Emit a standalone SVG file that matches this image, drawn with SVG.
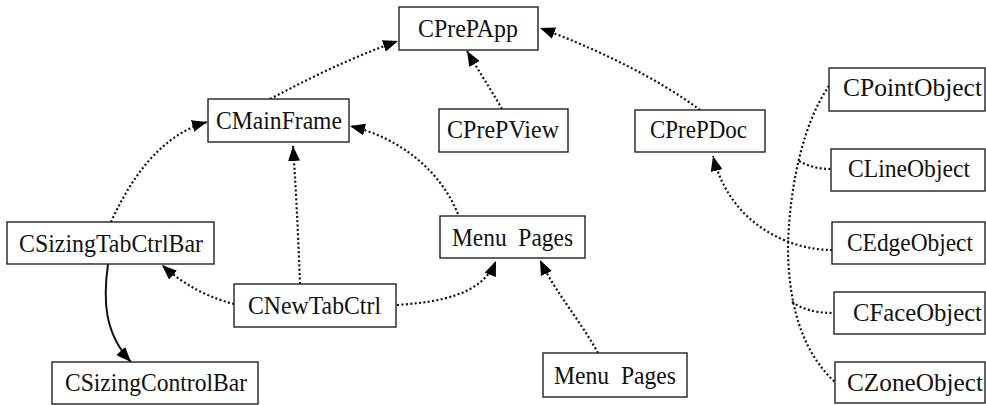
<svg xmlns="http://www.w3.org/2000/svg" width="986" height="405" viewBox="0 0 986 405">
<style>
.box{fill:#fff;stroke:#222;stroke-width:1.4}
.t{font-family:"Liberation Serif","Times New Roman",serif;font-size:25px;fill:#111}
.dot{fill:none;stroke:#111;stroke-width:2.2;stroke-dasharray:2 2.4}
.sol{fill:none;stroke:#111;stroke-width:2}
</style>
<defs>
<marker id="ah" viewBox="0 0 15 12" refX="15" refY="6" markerWidth="15" markerHeight="12" markerUnits="userSpaceOnUse" orient="auto">
<path d="M0,0 L15,6 L0,12 z" fill="#000"/>
</marker>
</defs>
<rect width="986" height="405" fill="#fff"/>
<g id="connectors">
<path class="dot" d="M270,99 C310,78 350,58 398,41" marker-end="url(#ah)"/>
<path class="dot" d="M502,109 C490,88 478,70 467,51" marker-end="url(#ah)"/>
<path class="dot" d="M700,110 C660,80 600,50 540,28" marker-end="url(#ah)"/>
<path class="dot" d="M111,222 C130,180 160,135 207,122" marker-end="url(#ah)"/>
<path class="dot" d="M300,284 C298,230 296,190 293,146" marker-end="url(#ah)"/>
<path class="dot" d="M458,214 C440,170 400,138 350,126" marker-end="url(#ah)"/>
<path class="dot" d="M234,304 C210,298 185,286 162,265" marker-end="url(#ah)"/>
<path class="dot" d="M397,305 C440,302 482,295 496,261" marker-end="url(#ah)"/>
<path class="dot" d="M598,353 C580,320 555,292 540,260" marker-end="url(#ah)"/>
<path class="dot" d="M832,250 C790,250 730,225 713,156" marker-end="url(#ah)"/>
<path class="dot" d="M829,86 C805,120 790,180 788,245 C788,300 800,350 835,382"/>
<path class="dot" d="M799,161 C810,167 820,169 831,169"/>
<path class="dot" d="M792,302 C805,311 820,313 834,313"/>
<path class="sol" d="M108,264 C103,300 104,333 131,362" marker-end="url(#ah)"/>
</g>
<g id="CPrePApp"><rect class="box" x="399" y="7" width="139" height="43"/><text class="t" x="418" y="37" textLength="100" lengthAdjust="spacingAndGlyphs">CPrePApp</text></g>
<g id="CMainFrame"><rect class="box" x="208" y="99" width="141" height="43"/><text class="t" x="216" y="129" textLength="126" lengthAdjust="spacingAndGlyphs">CMainFrame</text></g>
<g id="CPrePView"><rect class="box" x="439" y="109" width="129" height="43"/><text class="t" x="447" y="138" textLength="112" lengthAdjust="spacingAndGlyphs">CPrePView</text></g>
<g id="CPrePDoc"><rect class="box" x="635" y="110" width="130" height="42"/><text class="t" x="650" y="138" textLength="97" lengthAdjust="spacingAndGlyphs">CPrePDoc</text></g>
<g id="CPointObject"><rect class="box" x="829" y="68" width="156" height="43"/><text class="t" x="843" y="96" textLength="139" lengthAdjust="spacingAndGlyphs">CPointObject</text></g>
<g id="CLineObject"><rect class="box" x="831" y="149" width="154" height="42"/><text class="t" x="848" y="177" textLength="122" lengthAdjust="spacingAndGlyphs">CLineObject</text></g>
<g id="CEdgeObject"><rect class="box" x="832" y="222" width="153" height="42"/><text class="t" x="847" y="251" textLength="126" lengthAdjust="spacingAndGlyphs">CEdgeObject</text></g>
<g id="CFaceObject"><rect class="box" x="834" y="292" width="151" height="42"/><text class="t" x="853" y="321" textLength="129" lengthAdjust="spacingAndGlyphs">CFaceObject</text></g>
<g id="CZoneObject"><rect class="box" x="835" y="362" width="150" height="41"/><text class="t" x="847" y="391" textLength="136" lengthAdjust="spacingAndGlyphs">CZoneObject</text></g>
<g id="MenuPagesTop"><rect class="box" x="440" y="216" width="145" height="42"/><text class="t" x="452" y="246" textLength="121" lengthAdjust="spacingAndGlyphs" xml:space="preserve">Menu  Pages</text></g>
<g id="MenuPagesBottom"><rect class="box" x="543" y="353" width="144" height="44"/><text class="t" x="554" y="384" textLength="122" lengthAdjust="spacingAndGlyphs" xml:space="preserve">Menu  Pages</text></g>
<g id="CSizingTabCtrlBar"><rect class="box" x="7" y="222" width="207" height="42"/><text class="t" x="19" y="252" textLength="184" lengthAdjust="spacingAndGlyphs">CSizingTabCtrlBar</text></g>
<g id="CNewTabCtrl"><rect class="box" x="234" y="284" width="162" height="43"/><text class="t" x="248" y="314" textLength="133" lengthAdjust="spacingAndGlyphs">CNewTabCtrl</text></g>
<g id="CSizingControlBar"><rect class="box" x="52" y="362" width="206" height="42"/><text class="t" x="65" y="391" textLength="182" lengthAdjust="spacingAndGlyphs">CSizingControlBar</text></g>
</svg>
